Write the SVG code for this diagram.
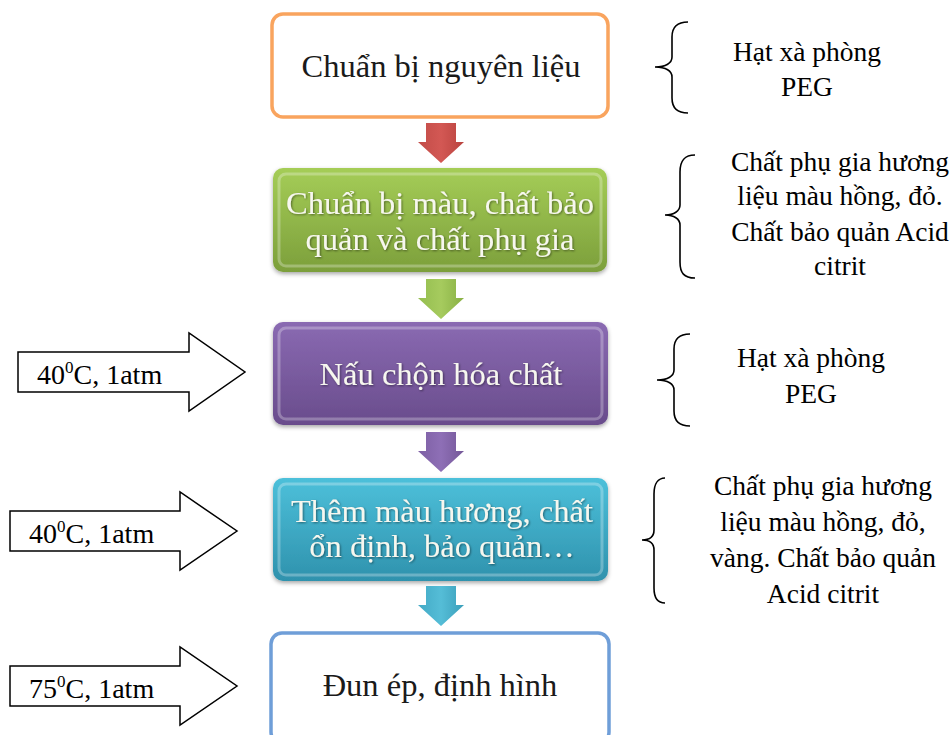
<svg xmlns="http://www.w3.org/2000/svg" width="952" height="735" viewBox="0 0 952 735">
  <style>
    .title { font-size: 32.5px; text-anchor: middle; }
    .dark { fill: #1a1a1a; }
    .light { fill: #f7f7ef; }
    .bevel { fill: none; stroke: #fff; stroke-opacity: 0.28; stroke-width: 3; }
    .note { font-size: 27.5px; fill: #000; text-anchor: middle; }
    .brace { fill: none; stroke: #000; stroke-width: 1.6; }
    .cond-arrow { fill: #fff; stroke: #000; stroke-width: 1.5; }
    .cond { font-size: 28px; fill: #000; }
    .sup { font-size: 17px; }
  </style>
  <defs>
    <linearGradient id="gGreen" x1="0" y1="0" x2="0" y2="1">
      <stop offset="0" stop-color="#a5cd57"/>
      <stop offset="1" stop-color="#7c9f3b"/>
    </linearGradient>
    <linearGradient id="gPurple" x1="0" y1="0" x2="0" y2="1">
      <stop offset="0" stop-color="#8a6ab2"/>
      <stop offset="1" stop-color="#694c8c"/>
    </linearGradient>
    <linearGradient id="gCyan" x1="0" y1="0" x2="0" y2="1">
      <stop offset="0" stop-color="#4dc0da"/>
      <stop offset="1" stop-color="#2f92ad"/>
    </linearGradient>
    <linearGradient id="aRed" x1="0" y1="0" x2="1" y2="0">
      <stop offset="0" stop-color="#c24c48"/>
      <stop offset="0.5" stop-color="#d35854"/>
      <stop offset="1" stop-color="#b9433f"/>
    </linearGradient>
    <linearGradient id="aGreen" x1="0" y1="0" x2="1" y2="0">
      <stop offset="0" stop-color="#94bd4f"/>
      <stop offset="0.5" stop-color="#a6cb5e"/>
      <stop offset="1" stop-color="#88b044"/>
    </linearGradient>
    <linearGradient id="aPurple" x1="0" y1="0" x2="1" y2="0">
      <stop offset="0" stop-color="#7d5fa4"/>
      <stop offset="0.5" stop-color="#8e6fb6"/>
      <stop offset="1" stop-color="#745798"/>
    </linearGradient>
    <linearGradient id="aCyan" x1="0" y1="0" x2="1" y2="0">
      <stop offset="0" stop-color="#43aac6"/>
      <stop offset="0.5" stop-color="#55bdd7"/>
      <stop offset="1" stop-color="#3b9fba"/>
    </linearGradient>
    <filter id="shadow" x="-5%" y="-5%" width="110%" height="120%">
      <feDropShadow dx="0" dy="2" stdDeviation="2" flood-color="#000" flood-opacity="0.35"/>
    </filter>
    <filter id="textShadow" x="-5%" y="-20%" width="110%" height="140%">
      <feDropShadow dx="1" dy="1" stdDeviation="1" flood-color="#000" flood-opacity="0.45"/>
    </filter>
    <!-- block arrow pointing down, origin at top centre -->
    <path id="downArrow" d="M-15,0 H15 V19 H23 L0,40 L-23,19 H-15 Z"/>
  </defs>

  <!-- process steps -->
  <g font-family="Liberation Serif, Times New Roman, serif">
    <g id="step-prepare-materials">
      <rect x="272" y="14" width="336" height="103" rx="11" fill="#fff" stroke="#f9a45e" stroke-width="3.5"/>
      <text class="title dark" x="441" y="77">Chuẩn bị nguyên liệu</text>
    </g>

    <g id="step-prepare-additives">
      <rect x="273" y="168" width="334" height="104" rx="10" fill="url(#gGreen)" filter="url(#shadow)"/>
      <rect x="279" y="174" width="322" height="92" rx="7" class="bevel"/>
      <g filter="url(#textShadow)">
        <text class="title light" x="440" y="214">Chuẩn bị màu, chất bảo</text>
        <text class="title light" x="440" y="250">quản và chất phụ gia</text>
      </g>
    </g>

    <g id="step-cook">
      <rect x="273" y="322" width="335" height="103" rx="10" fill="url(#gPurple)" filter="url(#shadow)"/>
      <rect x="279" y="328" width="323" height="91" rx="7" class="bevel"/>
      <text class="title light" x="441" y="385" filter="url(#textShadow)">Nấu chộn hóa chất</text>
    </g>

    <g id="step-add-color">
      <rect x="273" y="478" width="335" height="103" rx="10" fill="url(#gCyan)" filter="url(#shadow)"/>
      <rect x="279" y="484" width="323" height="91" rx="7" class="bevel"/>
      <g filter="url(#textShadow)">
        <text class="title light" x="442" y="522">Thêm màu hương, chất</text>
        <text class="title light" x="442" y="557">ổn định, bảo quản…</text>
      </g>
    </g>

    <g id="step-press">
      <rect x="271" y="633" width="338" height="110" rx="11" fill="#fff" stroke="#6f9ed8" stroke-width="3.5"/>
      <text class="title dark" x="440" y="696" font-size="31">Đun ép, định hình</text>
    </g>
  </g>

  <!-- flow connectors between steps -->
  <g id="connectors">
    <use href="#downArrow" transform="translate(441,123)" fill="url(#aRed)"/>
    <use href="#downArrow" transform="translate(441,279)" fill="url(#aGreen)"/>
    <use href="#downArrow" transform="translate(441,432)" fill="url(#aPurple)"/>
    <use href="#downArrow" transform="translate(441,586)" fill="url(#aCyan)"/>
  </g>

  <!-- process conditions -->
  <g font-family="Liberation Serif, Times New Roman, serif">
    <g id="condition-cook">
      <path class="cond-arrow" d="M18,352 H189 V333 L245,372 L189,411 V392 H18 Z"/>
      <text class="cond" x="37" y="384">40<tspan class="sup" dy="-11">0</tspan><tspan dy="11">C, 1atm</tspan></text>
    </g>
    <g id="condition-add-color">
      <path class="cond-arrow" d="M10,511 H180 V492 L237,531 L180,570 V551 H10 Z"/>
      <text class="cond" x="29" y="543">40<tspan class="sup" dy="-11">0</tspan><tspan dy="11">C, 1atm</tspan></text>
    </g>
    <g id="condition-press">
      <path class="cond-arrow" d="M10,666 H180 V647 L237,686 L180,725 V706 H10 Z"/>
      <text class="cond" x="29" y="698">75<tspan class="sup" dy="-11">0</tspan><tspan dy="11">C, 1atm</tspan></text>
    </g>
  </g>

  <!-- material notes -->
  <g font-family="Liberation Serif, Times New Roman, serif">
    <g id="note-materials">
      <path class="brace" d="M688,22 C677,22 672,27 672,37 L672,57 C672,63 666,67 655,67 C666,67 672,71 672,77 L672,98 C672,108 677,113 688,113"/>
      <text class="note" x="807" y="61">Hạt xà phòng</text>
      <text class="note" x="807" y="96">PEG</text>
    </g>

    <g id="note-additives">
      <path class="brace" d="M695,155 C684,155 680,161 680,172 L680,205 C680,211 674,215 665,215 C674,215 680,219 680,225 L680,262 C680,273 684,278 695,278"/>
      <text class="note" x="840" y="171">Chất phụ gia hương</text>
      <text class="note" x="840" y="205">liệu màu hồng, đỏ.</text>
      <text class="note" x="840" y="241">Chất bảo quản Acid</text>
      <text class="note" x="840" y="275">citrit</text>
    </g>

    <g id="note-cook">
      <path class="brace" d="M690,334 C679,334 674,339 674,349 L674,370 C674,376 668,380 657,380 C668,380 674,384 674,390 L674,411 C674,421 679,426 690,426"/>
      <text class="note" x="811" y="367">Hạt xà phòng</text>
      <text class="note" x="811" y="403">PEG</text>
    </g>

    <g id="note-color">
      <path class="brace" d="M665,478 C658,478 654,484 654,494 L654,530 C654,536 650,540 642,540 C650,540 654,544 654,550 L654,588 C654,598 658,603 665,603"/>
      <text class="note" x="823" y="495">Chất phụ gia hương</text>
      <text class="note" x="823" y="531">liệu màu hồng, đỏ,</text>
      <text class="note" x="823" y="567">vàng. Chất bảo quản</text>
      <text class="note" x="823" y="603">Acid citrit</text>
    </g>
  </g>
</svg>
